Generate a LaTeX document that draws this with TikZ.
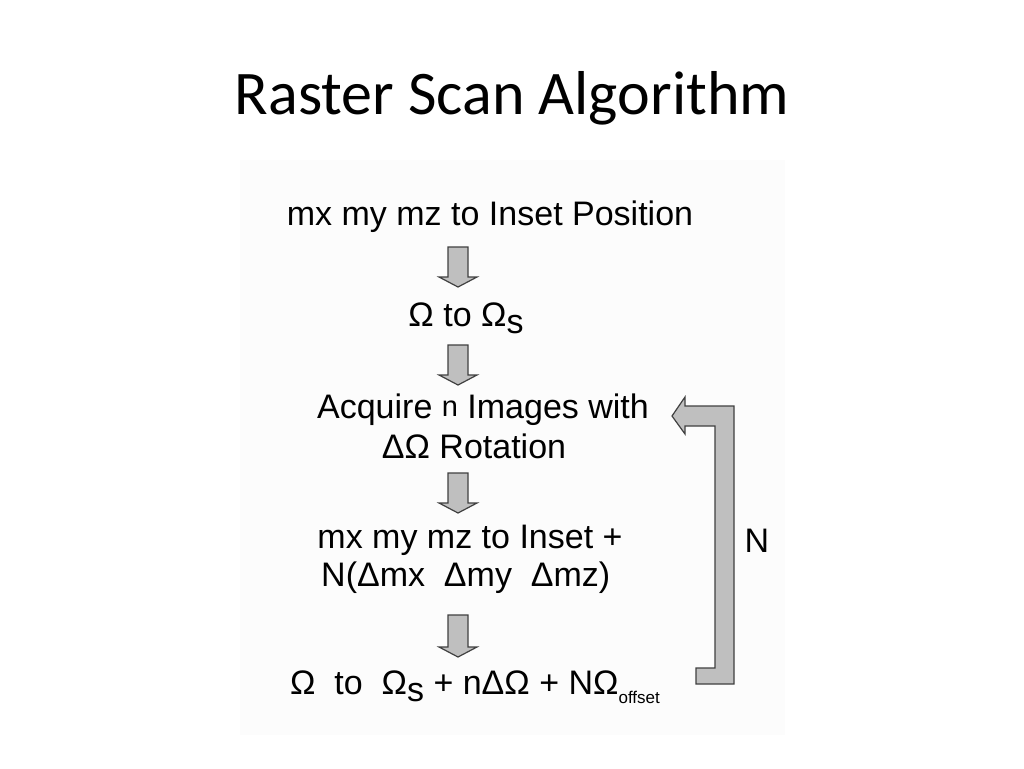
\documentclass[tikz,border=0pt]{standalone}
\usepackage{fontspec}
\setmainfont{Liberation Sans}
\newfontfamily\titlefont{Carlito}
\usetikzlibrary{positioning}
\tikzset{
  step text/.style = {font=\fontsize{34}{40}\selectfont, align=center, inner sep=0pt},
  block/.style = {draw=black!75, fill=black!25, line width=1.2pt, line join=miter},
}
% block arrow pointing down, centred at x, from top y to tip y
\newcommand{\blockdown}[3]{%
  \draw[block] (#1-10,#2) -- (#1+10,#2) -- (#1+10,#3-10) -- (#1+19,#3-10)
    -- (#1,#3) -- (#1-19,#3-10) -- (#1-10,#3-10) -- cycle;}
\begin{document}
\begin{tikzpicture}[x=1pt, y=-1pt]
  \useasboundingbox (0,0) rectangle (1024,768);
  \fill[black!1] (240,160) rectangle (785,735);
  % title
  \node[font=\titlefont\fontsize{62}{70}\selectfont] (title) at (512,98) {Raster Scan Algorithm};

  % steps
  \node[step text] (s1) at (490,217) {mx my mz to Inset Position};
  \node[step text] (s2) at (466,318) {Ω\ to Ω\raisebox{-7pt}{s}};
  \node[step text] (s3) at (483,410) {Acquire \raisebox{2pt}{\fontsize{29}{32}\selectfont n} Images with};
  \node[step text] (s3b) at (474,446) {ΔΩ Rotation};
  \node[step text] (s4) at (470,540) {mx my mz to Inset +};
  \node[step text, anchor=west] (s4b) at (321,578) {N(Δmx\ \ Δmy\ \ Δmz)};
  \node[step text] (s5) at (475,687) {Ω\ \ to\ \ Ω\raisebox{-7pt}{s} + nΔΩ + NΩ\raisebox{-9pt}{\fontsize{17}{20}\selectfont offset}};
  \node[step text] (n) at (757,541) {N};

  % block arrows between steps
  \blockdown{458}{247}{287}
  \blockdown{458}{345}{385}
  \blockdown{458}{473}{513}
  \blockdown{458}{615}{657}

  % loop back
  \draw[block]
    (696,668) -- (715,668) -- (715,426) -- (685,426) -- (685,434) -- (672,416)
    -- (685,397) -- (685,406) -- (734,406) -- (734,684) -- (696,684) -- cycle;
\end{tikzpicture}
\end{document}
